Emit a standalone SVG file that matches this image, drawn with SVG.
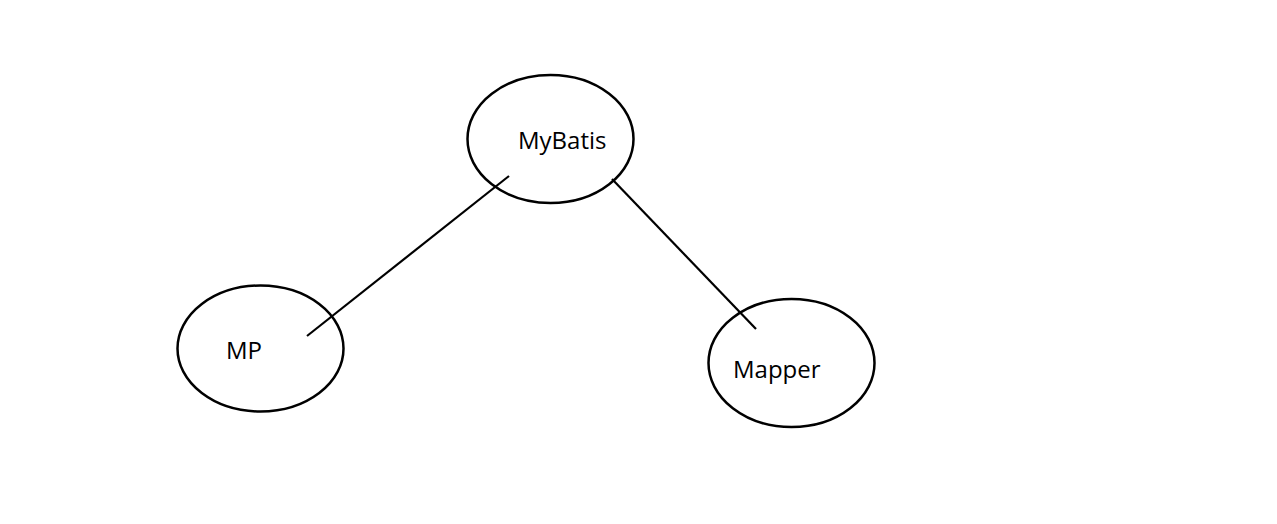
<svg xmlns="http://www.w3.org/2000/svg" width="1277" height="524" viewBox="0 0 1277 524">
<style>
.node ellipse{fill:none;stroke:#000;stroke-width:2.5}
.node text{font-family:"Open Sans","Noto Sans",sans-serif;font-size:24px;fill:#000}
.edges line{stroke:#000;stroke-width:2.2}
</style>
<rect width="1277" height="524" fill="#fff"/>
<g class="edges">
<line x1="509" y1="176" x2="307" y2="336"/>
<line x1="612" y1="179" x2="756" y2="329"/>
</g>
<g id="mybatis" class="node">
<ellipse cx="550.5" cy="139" rx="83" ry="64"/>
<text x="518" y="149">MyBatis</text>
</g>
<g id="mp" class="node">
<ellipse cx="260.5" cy="348.5" rx="83" ry="63"/>
<text x="226" y="359">MP</text>
</g>
<g id="mapper" class="node">
<ellipse cx="791.5" cy="363" rx="83" ry="64"/>
<text x="733" y="378">Mapper</text>
</g>
</svg>
